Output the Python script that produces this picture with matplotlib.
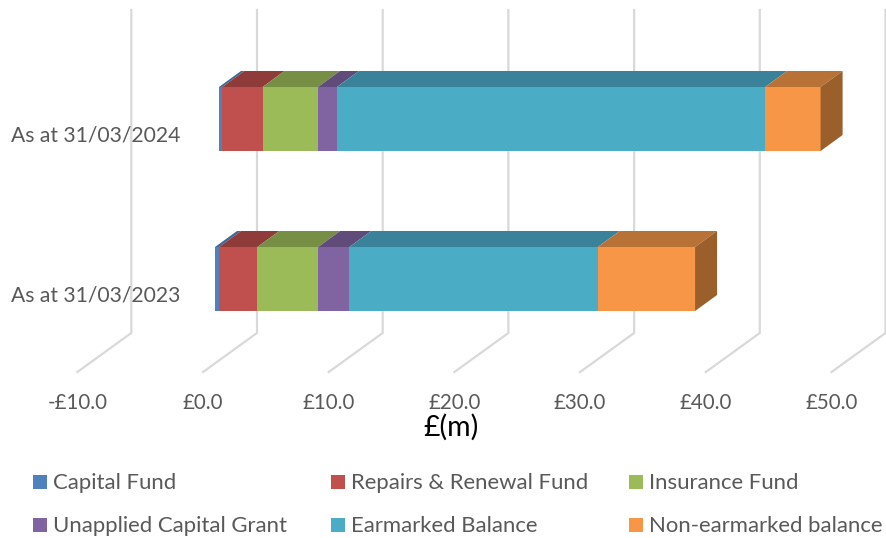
import matplotlib
matplotlib.use("Agg")
import matplotlib.pyplot as plt
from matplotlib.patches import Polygon, Rectangle

plt.rcParams["font.family"] = ["Lato", "DejaVu Sans"]

# data, £m
categories = ["As at 31/03/2024", "As at 31/03/2023"]
series_names = ["Capital Fund", "Repairs & Renewal Fund", "Insurance Fund",
                "Unapplied Capital Grant", "Earmarked Balance", "Non-earmarked balance"]
capital_fund = [0.26, 0.32]
repairs_fund = [3.21, 3.05]
insurance_fund = [4.40, 4.83]
capital_grant = [1.51, 2.49]
earmarked = [34.07, 19.76]
non_earmarked = [4.41, 7.74]
axis_ticks = [-10, 0, 10, 20, 30, 40, 50]
tick_labels = ["-£10.0", "£0.0", "£10.0", "£20.0", "£30.0", "£40.0", "£50.0"]

all_series = [capital_fund, repairs_fund, insurance_fund, capital_grant, earmarked, non_earmarked]

front_colors = ["#4f81bd", "#c0504d", "#9bbb59", "#8064a2", "#4bacc6", "#f79646"]
top_colors = ["#3f6797", "#8f3b39", "#778f45", "#604b7a", "#39829a", "#b97235"]
side_color = "#9a5f2b"

# layout (pixels in the 886x538 picture)
W, H = 886, 538
PX_PER_UNIT = 12.57
ZERO_PX = 203.0
bar_top = [87, 247]
bar_bottom = [151, 311]
bar_baseline = [141, 301]
bar_shift = [16 / PX_PER_UNIT, 12 / PX_PER_UNIT]
DEPTH_X = 22 / PX_PER_UNIT
DEPTH_Y = 16
WALL_X = 54 / PX_PER_UNIT
WALL_TOP, WALL_BOTTOM, FLOOR_FRONT = 10, 333, 372
GRID = "#d9d9d9"
TEXT = "#595959"

fig = plt.figure(figsize=(W / 100, H / 100), dpi=100)
ax = fig.add_axes([0, 0, 1, 1])
ax.set_xlim(-ZERO_PX / PX_PER_UNIT, (W - ZERO_PX) / PX_PER_UNIT)
ax.set_ylim(H, 0)
ax.axis("off")

# back wall and floor gridlines
for v, lab in zip(axis_ticks, tick_labels):
    ax.plot([v + WALL_X, v + WALL_X, v], [WALL_TOP, WALL_BOTTOM, FLOOR_FRONT],
            color=GRID, lw=1.6, solid_joinstyle="miter", zorder=1, clip_on=True)
    ax.text(v, 409, lab, ha="center", va="baseline", fontsize=14.8, color=TEXT)

ax.text(19.7, 427, "£(m)", ha="center", va="center", fontsize=20.5, color="black", zorder=5)

# stacked bars, left to right for each year
for i, cat in enumerate(categories):
    t, b = bar_top[i], bar_bottom[i]
    left = bar_shift[i]
    for j, vals in enumerate(all_series):
        right = left + vals[i]
        ax.add_patch(Polygon([(left, t), (right, t), (right, b), (left, b)],
                             closed=True, fc=front_colors[j], ec="none", zorder=3))
        ax.add_patch(Polygon([(left, t), (right, t), (right + DEPTH_X, t - DEPTH_Y), (left + DEPTH_X, t - DEPTH_Y)],
                             closed=True, fc=top_colors[j], ec="none", zorder=3))
        left = right
    ax.add_patch(Polygon([(left, t), (left + DEPTH_X, t - DEPTH_Y), (left + DEPTH_X, b - DEPTH_Y), (left, b)],
                         closed=True, fc=side_color, ec="none", zorder=3))
    ax.text((180 - ZERO_PX) / PX_PER_UNIT, bar_baseline[i], cat, ha="right", va="baseline",
            fontsize=15.2, color=TEXT)

# legend
leg = fig.add_axes([0, 0, 1, 1])
leg.set_xlim(0, W)
leg.set_ylim(H, 0)
leg.axis("off")
leg.patch.set_alpha(0)
leg_x = [33, 331, 629]
leg_y = [482, 525]
for k, name in enumerate(series_names):
    x = leg_x[k % 3]
    y = leg_y[k // 3]
    leg.add_patch(Rectangle((x, y - 7), 14, 14, fc=front_colors[k], ec="none"))
    leg.text(x + 20, y + 7, name, ha="left", va="baseline", fontsize=15.9, color=TEXT)

fig.savefig("out.png", dpi=100)
